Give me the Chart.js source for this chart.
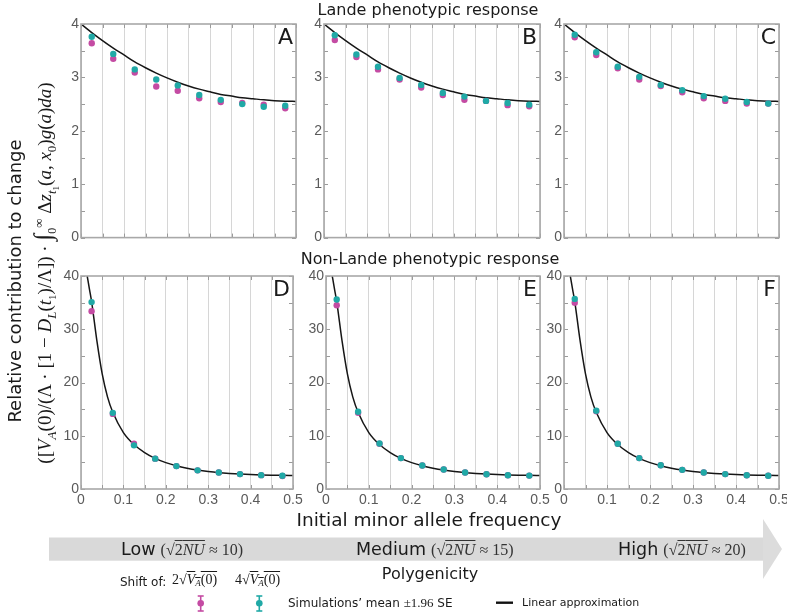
<!DOCTYPE html>
<html>
<head>
<meta charset="utf-8">
<script src="https://cdn.jsdelivr.net/npm/chart.js@4/dist/chart.umd.min.js"></script>
<style>
  html,body{margin:0;padding:0;background:#fff;}
  #root{position:relative;width:787px;height:612px;overflow:hidden;background:#fff;font-family:"DejaVu Sans",Verdana,sans-serif;color:#1a1a1a;}
  .abs{position:absolute;white-space:nowrap;}
  .c{transform:translate(-50%,-50%);}
  .m{font-family:"Liberation Serif","DejaVu Serif",serif;}
  .ov{text-decoration:overline;}
  .box{position:absolute;}
  .box canvas{display:block;}
</style>
</head>
<body>
<div id="root">
  <svg class="abs" style="left:0;top:0" width="787" height="612">
    <rect x="49" y="537.5" width="715" height="23.2" fill="#d9d9d9"/>
    <polygon points="763,519 782,549 763,579" fill="#dcdcdc"/>
    <g stroke="#c44ba3" stroke-width="1.6" fill="#c44ba3">
      <line x1="200.7" y1="596" x2="200.7" y2="611"/>
      <line x1="197.7" y1="596" x2="203.7" y2="596"/>
      <line x1="197.7" y1="611" x2="203.7" y2="611"/>
      <circle cx="200.7" cy="603.3" r="3.3" stroke="none"/>
    </g>
    <g stroke="#20a9a6" stroke-width="1.6" fill="#20a9a6">
      <line x1="259.3" y1="596" x2="259.3" y2="611"/>
      <line x1="256.3" y1="596" x2="262.3" y2="596"/>
      <line x1="256.3" y1="611" x2="262.3" y2="611"/>
      <circle cx="259.3" cy="603.3" r="3.3" stroke="none"/>
    </g>
    <line x1="496" y1="602.7" x2="513" y2="602.7" stroke="#111" stroke-width="2.4"/>
  </svg>

  <div class="abs c" style="left:428px;top:9px;font-size:16px;">Lande phenotypic response</div>
  <div class="abs c" style="left:430px;top:258px;font-size:16px;">Non-Lande phenotypic response</div>
  <div class="abs c" style="left:429px;top:519px;font-size:18.5px;">Initial minor allele frequency</div>

  <div class="abs c" style="left:14px;top:281px;font-size:18px;transform:translate(-50%,-50%) rotate(-90deg);">Relative contribution to change</div>
  <div class="abs c m" style="left:45px;top:273px;font-size:19px;transform:translate(-50%,-50%) rotate(-90deg);">([<i>V</i><sub style="font-size:13px"><i>A</i></sub>(0)/(Λ · [1 − <i>D</i><sub style="font-size:13px"><i>L</i></sub>(<i>t</i><sub style="font-size:11px">1</sub>)/Λ]) · <span style="font-size:25px">∫</span><sub style="font-size:12px">0</sub><sup style="font-size:13px">∞</sup> Δ<i>z</i><sub style="font-size:13px"><i>t</i><sub style="font-size:9px">1</sub></sub>(<i>a</i>, <i>x</i><sub style="font-size:13px">0</sub>)<i>g</i>(<i>a</i>)<i>da</i>)</div>

  <div class="abs" style="left:121px;top:538px;line-height:23px;"><span style="font-size:17.5px">Low</span> <span class="m" style="font-size:16px;color:#333">(√<span class="ov">2<i>NU</i></span> ≈ 10)</span></div>
  <div class="abs" style="left:356px;top:538px;line-height:23px;"><span style="font-size:17.5px">Medium</span> <span class="m" style="font-size:16px;color:#333">(√<span class="ov">2<i>NU</i></span> ≈ 15)</span></div>
  <div class="abs" style="left:618px;top:538px;line-height:23px;"><span style="font-size:17.5px">High</span> <span class="m" style="font-size:16px;color:#333">(√<span class="ov">2<i>NU</i></span> ≈ 20)</span></div>
  <div class="abs c" style="left:430px;top:573px;font-size:16px;">Polygenicity</div>

  <div class="abs" style="left:120px;top:575px;font-size:12px;">Shift of:</div>
  <div class="abs m" style="left:172px;top:572px;font-size:14px;">2√<span class="ov"><i>V</i><sub style="font-size:9px;vertical-align:-2px"><i>A</i></sub>(0)</span></div>
  <div class="abs m" style="left:235px;top:572px;font-size:14px;">4√<span class="ov"><i>V</i><sub style="font-size:9px;vertical-align:-2px"><i>A</i></sub>(0)</span></div>
  <div class="abs" style="left:288px;top:595px;font-size:12px;">Simulations’ mean <span class="m" style="font-size:13px">±1.96</span> SE</div>
  <div class="abs" style="left:522px;top:596px;font-size:11px;">Linear approximation</div>
</div>

<script>
// ---------- data ----------
const freq = [0.025,0.075,0.125,0.175,0.225,0.275,0.325,0.375,0.425,0.475];

// Lande phenotypic response (top row)
const landeLowShift2  = [3.64,3.35,3.09,2.83,2.75,2.61,2.54,2.52,2.49,2.42];
const landeLowShift4  = [3.76,3.44,3.15,2.96,2.85,2.67,2.58,2.50,2.45,2.47];
const landeMedShift2  = [3.70,3.38,3.15,2.96,2.81,2.67,2.58,2.56,2.48,2.46];
const landeMedShift4  = [3.79,3.43,3.20,2.99,2.86,2.71,2.64,2.56,2.52,2.49];
const landeHighShift2 = [3.75,3.42,3.17,2.96,2.84,2.72,2.61,2.56,2.51,2.51];
const landeHighShift4 = [3.80,3.47,3.20,3.01,2.86,2.76,2.65,2.60,2.54,2.51];

// Non-Lande phenotypic response (bottom row)
const nonLandeLowShift2  = [33.4,14.1,8.5,5.7,4.3,3.5,3.1,2.8,2.6,2.45];
const nonLandeLowShift4  = [35.1,14.3,8.2,5.7,4.3,3.5,3.1,2.8,2.6,2.5];
const nonLandeMedShift2  = [34.5,14.3,8.5,5.8,4.4,3.65,3.1,2.77,2.58,2.52];
const nonLandeMedShift4  = [35.6,14.5,8.55,5.8,4.4,3.65,3.1,2.77,2.58,2.52];
const nonLandeHighShift2 = [35.0,14.6,8.5,5.8,4.45,3.6,3.1,2.8,2.57,2.5];
const nonLandeHighShift4 = [35.7,14.7,8.5,5.8,4.45,3.6,3.1,2.8,2.57,2.5];

// Linear approximation curves
const landeCurveFreq  = [0,0.025,0.05,0.075,0.1,0.125,0.15,0.175,0.2,0.225,0.25,0.275,0.3,0.325,0.35,0.375,0.4,0.425,0.45,0.475,0.5];
const landeCurveValue = [4.0,3.84,3.69,3.55,3.42,3.29,3.18,3.08,2.99,2.91,2.84,2.78,2.73,2.68,2.65,2.62,2.60,2.58,2.565,2.555,2.55];
const nonLandeCurveFreq  = [0.0146,0.02,0.025,0.0375,0.05,0.0625,0.075,0.1,0.125,0.15,0.175,0.2,0.225,0.25,0.275,0.3,0.325,0.35,0.375,0.4,0.425,0.45,0.475,0.5];
const nonLandeCurveValue = [40,37.5,35.2,27.8,21.6,17.3,14.4,10.6,8.35,6.85,5.75,4.95,4.35,3.9,3.55,3.28,3.07,2.92,2.8,2.71,2.64,2.59,2.56,2.55];

const xTickLabels = ['0','0.1','0.2','0.3','0.4','0.5'];
const landeYTicks = [0,1,2,3,4];
const nonLandeYTicks = [0,10,20,30,40];

const MAGENTA = '#c44ba3', TEAL = '#20a9a6';

// ---------- frame / minor ticks / panel letter ----------
const framePlugin = {
  id: 'frame',
  afterDraw(chart, args, opts) {
    const {ctx, chartArea: a, scales: {x, y}} = chart;
    ctx.save();
    ctx.strokeStyle = '#9a9a9a'; ctx.lineWidth = 1;
    ctx.beginPath();
    for (let k = 0; k * opts.minor <= y.max + 1e-9; k++) {
      const py = Math.round(y.getPixelForValue(k * opts.minor)) + 0.5;
      ctx.moveTo(a.left, py); ctx.lineTo(a.left + 4, py);
      ctx.moveTo(a.right - 4, py); ctx.lineTo(a.right, py);
    }
    for (let k = 0; k <= 10; k++) {
      const px = Math.round(x.getPixelForValue(k * 0.05)) + 0.5;
      ctx.moveTo(px, a.top); ctx.lineTo(px, a.top + 4);
      ctx.moveTo(px, a.bottom - 4); ctx.lineTo(px, a.bottom);
    }
    ctx.stroke();
    ctx.strokeStyle = '#a8a8a8'; ctx.lineWidth = 1.6;
    ctx.strokeRect(a.left, a.top, a.right - a.left, a.bottom - a.top);
    ctx.fillStyle = '#1a1a1a';
    ctx.font = '22px "DejaVu Sans", Verdana, sans-serif';
    ctx.textAlign = 'right'; ctx.textBaseline = 'top';
    ctx.fillText(opts.letter, a.right - 3, a.top + 3);
    ctx.restore();
  }
};

const panels = [
  {letter:'A', left:81,    top:24,  w:215,   h:214.3, lande:true,  s2:landeLowShift2,  s4:landeLowShift4},
  {letter:'B', left:323.5, top:24,  w:215.5, h:214.3, lande:true,  s2:landeMedShift2,  s4:landeMedShift4},
  {letter:'C', left:564.3, top:24,  w:215,   h:214.3, lande:true,  s2:landeHighShift2, s4:landeHighShift4},
  {letter:'D', left:81,    top:276, w:212,   h:212.7, lande:false, s2:nonLandeLowShift2,  s4:nonLandeLowShift4},
  {letter:'E', left:325.5, top:276, w:213.5, h:212.7, lande:false, s2:nonLandeMedShift2,  s4:nonLandeMedShift4},
  {letter:'F', left:564.3, top:276, w:215,   h:212.7, lande:false, s2:nonLandeHighShift2, s4:nonLandeHighShift4},
];

const root = document.getElementById('root');
const tickFont = {family: '"Liberation Sans", Arial, sans-serif', size: 14};

panels.forEach(p => {
  const padL = 40, padT = 12, padR = 14;
  const xh = p.lande ? 10 : 24;
  const W = Math.round(p.w + padL + padR), H = Math.round(p.h + padT + xh);
  const box = document.createElement('div');
  box.className = 'box';
  box.style.left = (p.left - padL) + 'px';
  box.style.top = (p.top - padT) + 'px';
  box.style.width = W + 'px'; box.style.height = H + 'px';
  const cv = document.createElement('canvas');
  cv.width = W; cv.height = H;
  cv.style.width = W + 'px'; cv.style.height = H + 'px';
  box.appendChild(cv);
  root.insertBefore(box, root.firstChild.nextSibling);

  const cf = p.lande ? landeCurveFreq : nonLandeCurveFreq;
  const cvv = p.lande ? landeCurveValue : nonLandeCurveValue;
  const yTicks = p.lande ? landeYTicks : nonLandeYTicks;

  new Chart(cv, {
    type: 'scatter',
    data: {
      datasets: [
        {label: '4√VA(0)', data: freq.map((f, i) => ({x: f, y: p.s4[i]})),
         backgroundColor: TEAL, borderColor: TEAL, borderWidth: 0, pointRadius: 3.2, order: 1},
        {label: '2√VA(0)', data: freq.map((f, i) => ({x: f, y: p.s2[i]})),
         backgroundColor: MAGENTA, borderColor: MAGENTA, borderWidth: 0, pointRadius: 3.2, order: 2},
        {label: 'Linear approximation', data: cf.map((f, i) => ({x: f, y: cvv[i]})),
         showLine: true, borderColor: '#161616', borderWidth: 1.5, pointRadius: 0,
         cubicInterpolationMode: 'monotone', order: 3}
      ]
    },
    options: {
      responsive: false, animation: false, devicePixelRatio: 1,
      layout: {padding: {top: padT, right: padR, left: 0, bottom: 0}},
      plugins: {legend: {display: false}, tooltip: {enabled: false},
                frame: {letter: p.letter, minor: p.lande ? 0.5 : 5}},
      scales: {
        x: {
          type: 'linear', min: 0, max: 0.5,
          ticks: {display: !p.lande, stepSize: 0.05, autoSkip: false, maxRotation: 0, minRotation: 0,
                  font: tickFont, color: '#5a5a5a', padding: 3,
                  callback: (v) => {
                    const k = Math.round(v * 20);
                    return (k % 2 === 0) ? xTickLabels[k / 2] : '';
                  }},
          grid: {color: '#d6d6d6', lineWidth: 1, drawTicks: false},
          border: {display: false},
          afterFit: (s) => { s.height = xh; }
        },
        y: {
          min: 0, max: yTicks[yTicks.length - 1],
          ticks: {stepSize: yTicks[1] - yTicks[0], font: tickFont, color: '#5a5a5a', padding: 2,
                  callback: (v) => yTicks.includes(v) ? String(v) : ''},
          grid: {display: false, drawTicks: false},
          border: {display: false},
          afterFit: (s) => { s.width = padL; }
        }
      }
    },
    plugins: [framePlugin]
  });
});
</script>
</body>
</html>
